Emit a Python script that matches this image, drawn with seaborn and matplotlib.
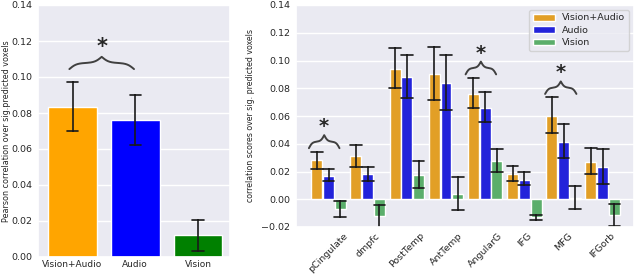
import numpy as np
import pandas as pd
import matplotlib
matplotlib.use("Agg")
import matplotlib.pyplot as plt
import seaborn as sns

# ---------------- data ----------------
left_labels = ["Vision+Audio", "Audio", "Vision"]
left_mean = [0.0835, 0.076, 0.012]
left_lo = [0.070, 0.062, 0.0035]
left_hi = [0.097, 0.090, 0.0205]

regions = ["pCingulate", "dmpfc", "PostTemp", "AntTemp", "AngularG", "IFG", "MFG", "IFGorb"]
conditions = ["Vision+Audio", "Audio", "Vision"]
va_mean = [0.028, 0.031, 0.094, 0.0905, 0.076, 0.018, 0.060, 0.0267]
va_lo = [0.022, 0.0235, 0.080, 0.0715, 0.066, 0.0135, 0.048, 0.018]
va_hi = [0.034, 0.039, 0.109, 0.110, 0.0875, 0.024, 0.074, 0.037]
a_mean = [0.017, 0.018, 0.088, 0.0835, 0.066, 0.014, 0.041, 0.0233]
a_lo = [0.0135, 0.0135, 0.073, 0.064, 0.056, 0.010, 0.0296, 0.011]
a_hi = [0.0217, 0.023, 0.104, 0.104, 0.0776, 0.0195, 0.054, 0.036]
v_mean = [-0.0067, -0.0123, 0.0173, 0.004, 0.0276, -0.0125, 0.001, -0.011]
v_lo = [-0.013, -0.021, 0.0084, -0.0075, 0.0195, -0.015, -0.007, -0.0195]
v_hi = [-0.001, -0.0043, 0.0275, 0.016, 0.036, -0.011, 0.0096, -0.0036]

# significance braces: (category index, offset start, offset end, base y, height, star y)
left_brace = (0, -0.05, 0.98, 0.1044, 0.0068, 0.1165)
right_braces = [
    (0, -0.50, 0.28, 0.0368, 0.0094, 0.0525),
    (4, -0.50, 0.28, 0.0900, 0.0092, 0.1050),
    (6, -0.47, 0.33, 0.0759, 0.0090, 0.0915),
]

left_colors = ["#FFA500", "#0000FF", "#008000"]
right_colors = ["#E29F26", "#2323DA", "#5BAE6B"]

# ---------------- long tables (median of lo/mean/hi = mean, 100% interval = lo..hi) ----------------
rows = []
for lab, m, lo, hi in zip(left_labels, left_mean, left_lo, left_hi):
    for v in (lo, m, hi):
        rows.append({"cond": lab, "val": v})
df_left = pd.DataFrame(rows)

rows = []
for cond, means, los, his in zip(conditions, [va_mean, a_mean, v_mean],
                                 [va_lo, a_lo, v_lo], [va_hi, a_hi, v_hi]):
    for r, m, lo, hi in zip(regions, means, los, his):
        for v in (lo, m, hi):
            rows.append({"region": r, "cond": cond, "val": v})
df_right = pd.DataFrame(rows)

# ---------------- plot ----------------
sns.set_theme(style="darkgrid")
plt.rcParams["font.family"] = ["DejaVu Sans"]

fig = plt.figure(figsize=(6.4, 2.76), dpi=100)
axL = fig.add_axes([38 / 640, 19 / 276, 192 / 640, 252 / 276])
axR = fig.add_axes([296 / 640, 49 / 276, 338 / 640, 222 / 276])

err_kws = {"color": "#1a1a1a", "linewidth": 1.2}

sns.barplot(data=df_left, x="cond", y="val", hue="cond", order=left_labels,
            hue_order=left_labels, palette=left_colors, saturation=1,
            estimator="median", errorbar=("pi", 100), capsize=0.18,
            err_kws=err_kws, width=0.78, legend=False, ax=axL)
axL.set_xlim(-0.55, 2.51)
axL.set_ylim(0, 0.14)
axL.set_yticks(np.arange(0, 0.1401, 0.02))
axL.set_xlabel("")
axL.set_ylabel("Pearson correlation over sig.predicted voxels", fontsize=5.8)
axL.yaxis.set_label_coords(-0.143, 0.5)
axL.tick_params(axis="y", labelsize=6.8, length=0, pad=4)
axL.tick_params(axis="x", labelsize=6.5, length=0, pad=2)

sns.barplot(data=df_right, x="region", y="val", hue="cond", order=regions,
            hue_order=conditions, palette=right_colors, saturation=1,
            estimator="median", errorbar=("pi", 100), capsize=0.9,
            err_kws=err_kws, width=0.9, gap=0.07, ax=axR)
axR.set_xlim(-0.83, 7.8)
axR.set_ylim(-0.02, 0.14)
axR.set_yticks(np.arange(-0.02, 0.1401, 0.02))
axR.set_xlabel("")
axR.set_ylabel("correlation scores over sig. predicted voxels", fontsize=5.7)
axR.yaxis.set_label_coords(-0.122, 0.5)
axR.tick_params(axis="y", labelsize=6.8, length=0, pad=4)
axR.tick_params(axis="x", labelsize=6.8, length=0, pad=3)
for t in axR.get_xticklabels():
    t.set_rotation(45)
    t.set_ha("center")
leg = axR.legend(loc="upper right", fontsize=6.8, frameon=True, handlelength=2.3,
                 borderaxespad=0.5, labelspacing=0.35)


def brace(ax, x0, x1, y, h, color="#404040", lw=1.4):
    half = (x1 - x0) / 2.0
    beta = 9.0 / half
    xh = np.linspace(0, half, 200)
    yh = 1 / (1 + np.exp(-beta * xh)) + 1 / (1 + np.exp(-beta * (xh - half)))
    yh = yh - yh[0]
    yh = yh / yh[-1]
    xs = np.concatenate([x0 + xh, x0 + 2 * half - xh[::-1]])
    ys = np.concatenate([yh, yh[::-1]])
    ax.plot(xs, y + h * ys, color=color, lw=lw, solid_capstyle="round")


c, s0, s1, yb, hh, ys = left_brace
brace(axL, c + s0, c + s1, yb, hh)
axL.text(c + (s0 + s1) / 2, ys, "*", ha="center", va="center", fontsize=15, fontweight="bold")

for c, s0, s1, yb, hh, ys in right_braces:
    brace(axR, c + s0, c + s1, yb, hh)
    axR.text(c + (s0 + s1) / 2, ys, "*", ha="center", va="center", fontsize=14, fontweight="bold")

fig.savefig("out.png", dpi=100)
